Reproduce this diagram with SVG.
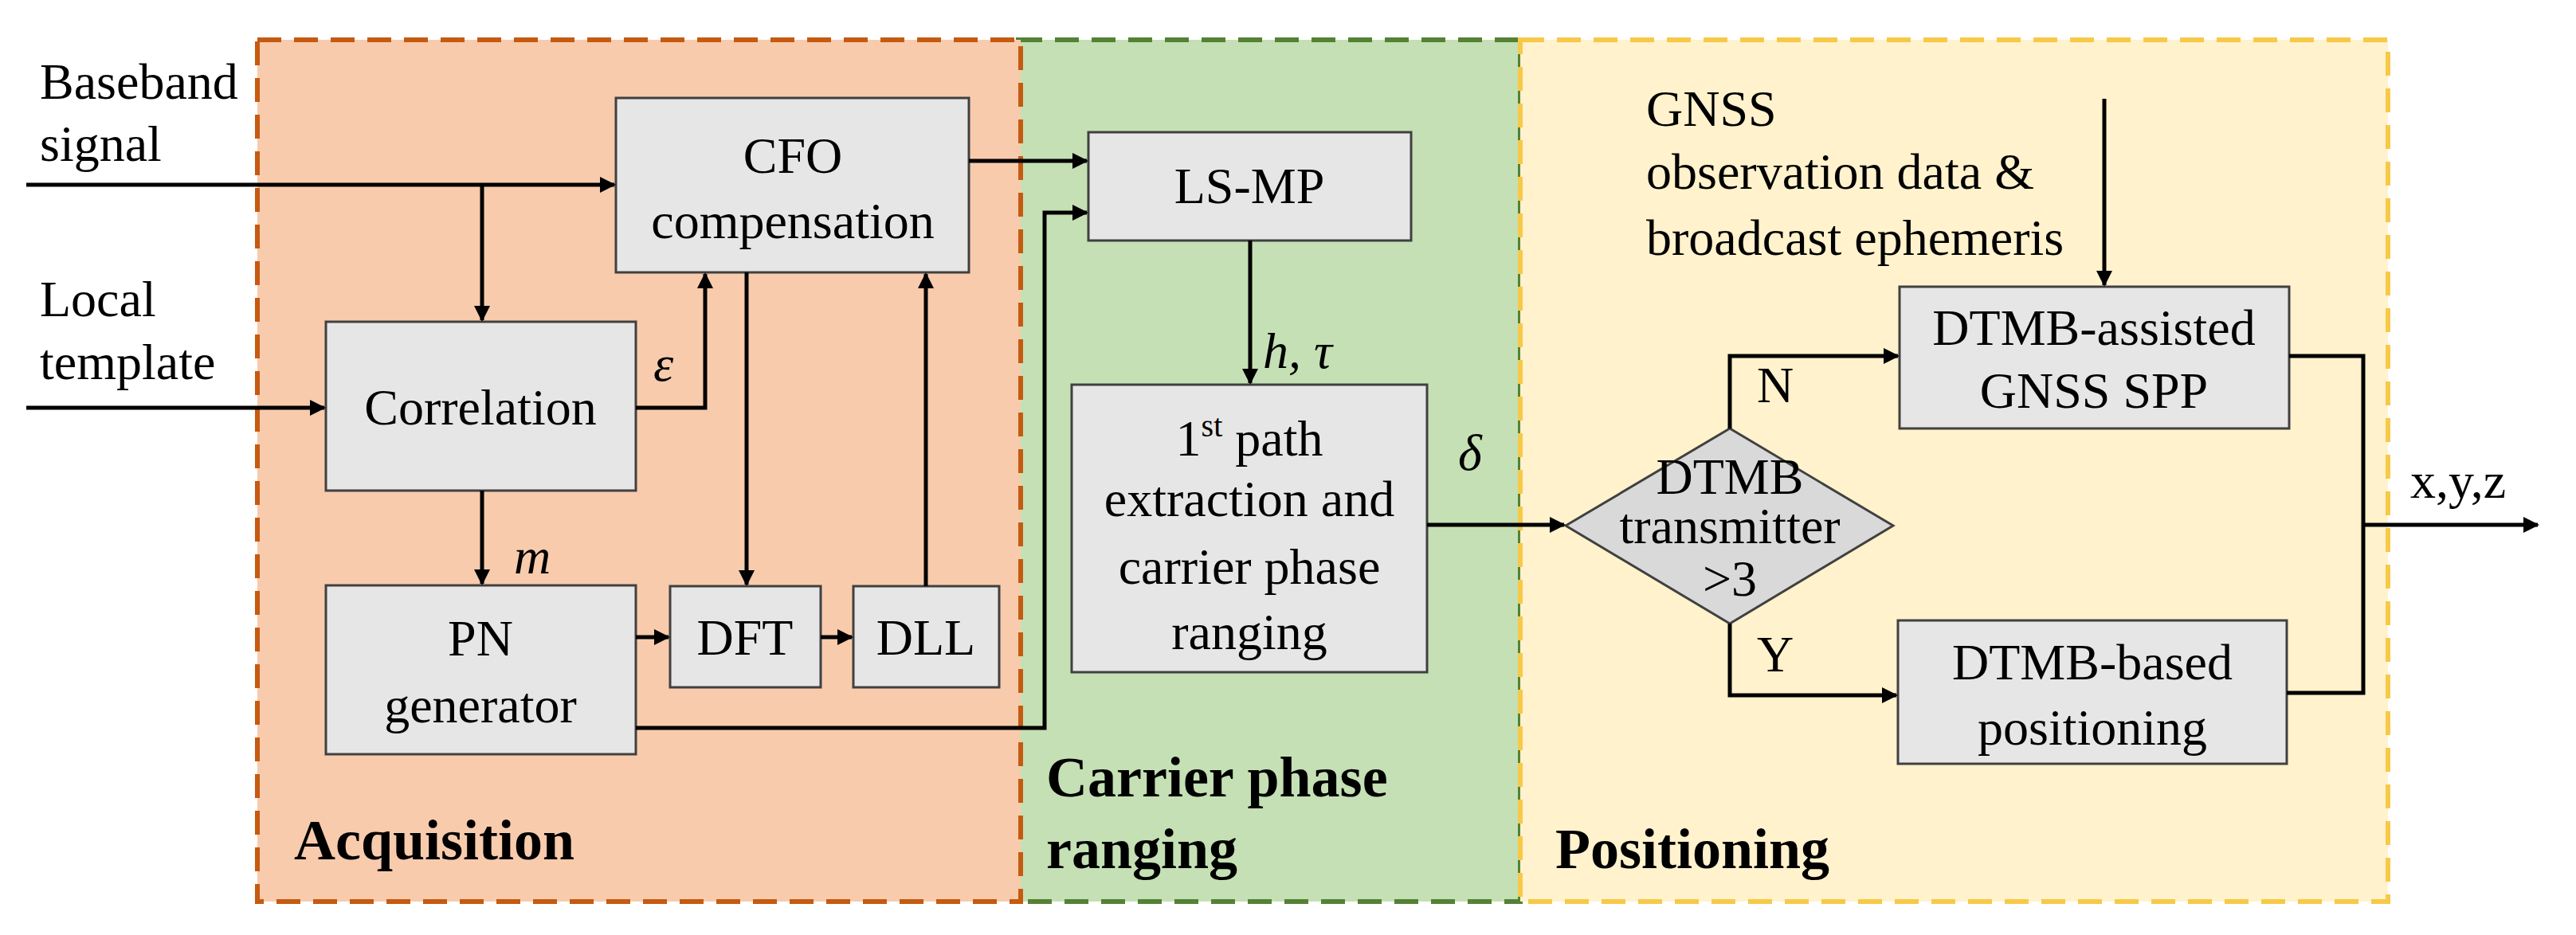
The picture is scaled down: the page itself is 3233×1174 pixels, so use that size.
<svg xmlns="http://www.w3.org/2000/svg" width="3233" height="1174" viewBox="0 0 3233 1174">
<style>
text{font-family:"Liberation Serif",Tinos,"Times New Roman","DejaVu Serif",serif;font-size:64px;fill:#000}
.t{text-anchor:middle}
.b{font-weight:bold;font-size:72px}
.i{font-style:italic}
.box{fill:#e7e6e6;stroke:#404040;stroke-width:3}
.ln{fill:none;stroke:#000;stroke-width:5}
</style>
<defs>
<marker id="a" viewBox="0 0 10 10" refX="9" refY="5" markerWidth="4" markerHeight="4" orient="auto"><path d="M0,0 L10,5 L0,10 z" fill="#000"/></marker>
</defs>
<g id="regions">
<rect x="1278" y="50" width="630" height="1082" fill="#c5e0b4" stroke="#548235" stroke-width="6" stroke-dasharray="30,16"/>
<rect x="1908" y="50" width="1089" height="1082" fill="#fff2cc" stroke="#f7c948" stroke-width="6" stroke-dasharray="30,16"/>
<rect x="323" y="50" width="958" height="1082" fill="#f8cbad" stroke="#c55a11" stroke-width="6" stroke-dasharray="30,16"/>
<text class="b" x="369" y="1079">Acquisition</text>
<text class="b" x="1313" y="1000">Carrier phase</text>
<text class="b" x="1313" y="1090">ranging</text>
<text class="b" x="1952" y="1090">Positioning</text>
</g>
<g id="inputs">
<text x="50" y="124">Baseband</text>
<text x="50" y="202">signal</text>
<text x="50" y="397">Local</text>
<text x="50" y="476">template</text>
</g>
<g id="cfo"><rect class="box" x="773" y="123" width="443" height="219"/><text class="t" x="995" y="217">CFO</text><text class="t" x="995" y="299">compensation</text></g>
<g id="correlation"><rect class="box" x="409" y="404" width="389" height="212"/><text class="t" x="603" y="533">Correlation</text></g>
<g id="pn"><rect class="box" x="409" y="735" width="389" height="212"/><text class="t" x="603" y="823">PN</text><text class="t" x="603" y="907">generator</text></g>
<g id="dft"><rect class="box" x="841" y="736" width="189" height="127"/><text class="t" x="935" y="822">DFT</text></g>
<g id="dll"><rect class="box" x="1071" y="736" width="183" height="127"/><text class="t" x="1162" y="822">DLL</text></g>
<g id="lsmp"><rect class="box" x="1366" y="166" width="405" height="136"/><text class="t" x="1568" y="255">LS-MP</text></g>
<g id="firstpath"><rect class="box" x="1345" y="483" width="446" height="361"/>
<text class="t" x="1568" y="572">1<tspan font-size="40" dy="-24">st</tspan><tspan dy="24"> path</tspan></text>
<text class="t" x="1568" y="648">extraction and</text><text class="t" x="1568" y="733">carrier phase</text><text class="t" x="1568" y="815">ranging</text></g>
<g id="decision"><path d="M1965,660 L2171,538 L2376,660 L2171,783 Z" fill="#d9d9d9" stroke="#404040" stroke-width="3"/>
<text class="t" x="2171" y="620" font-size="46">DTMB</text><text class="t" x="2171" y="682" font-size="46">transmitter</text><text class="t" x="2171" y="748" font-size="46">&gt;3</text></g>
<g id="assisted"><rect class="box" x="2384" y="360" width="489" height="178"/><text class="t" x="2628" y="433">DTMB-assisted</text><text class="t" x="2628" y="512">GNSS SPP</text></g>
<g id="based"><rect class="box" x="2382" y="779" width="488" height="180"/><text class="t" x="2626" y="853">DTMB-based</text><text class="t" x="2626" y="935">positioning</text></g>
<g id="gnss"><text x="2066" y="158">GNSS</text><text x="2066" y="237">observation data &amp;</text><text x="2066" y="320">broadcast ephemeris</text></g>
<g id="connectors">
<path class="ln" marker-end="url(#a)" d="M33,232 L771,232"/>
<path class="ln" marker-end="url(#a)" d="M605,232 L605,402"/>
<path class="ln" marker-end="url(#a)" d="M33,512 L407,512"/>
<path class="ln" marker-end="url(#a)" d="M798,512 L885,512 L885,344"/>
<path class="ln" marker-end="url(#a)" d="M937,342 L937,734"/>
<path class="ln" marker-end="url(#a)" d="M1162,736 L1162,344"/>
<path class="ln" marker-end="url(#a)" d="M605,616 L605,733"/>
<path class="ln" marker-end="url(#a)" d="M798,800 L839,800"/>
<path class="ln" marker-end="url(#a)" d="M1030,800 L1069,800"/>
<path class="ln" marker-end="url(#a)" d="M798,914 L1311,914 L1311,267 L1364,267"/>
<path class="ln" marker-end="url(#a)" d="M1216,202 L1364,202"/>
<path class="ln" marker-end="url(#a)" d="M1569,302 L1569,481"/>
<path class="ln" marker-end="url(#a)" d="M1791,659 L1963,659"/>
<path class="ln" marker-end="url(#a)" d="M2171,538 L2171,447 L2382,447"/>
<path class="ln" marker-end="url(#a)" d="M2171,783 L2171,873 L2380,873"/>
<path class="ln" marker-end="url(#a)" d="M2641,124 L2641,358"/>
<path class="ln" d="M2873,447 L2966,447 L2966,870 L2870,870"/>
<path class="ln" marker-end="url(#a)" d="M2966,659 L3185,659"/>
<text class="i" x="820" y="478">ε</text>
<text class="i" x="645" y="720">m</text>
<text class="i" x="1585" y="462">h, τ</text>
<text class="i" x="1830" y="590">δ</text>
<text x="2205" y="505" font-size="52">N</text>
<text x="2205" y="843" font-size="52">Y</text>
<text x="3025" y="625">x,y,z</text>
</g>
</svg>
